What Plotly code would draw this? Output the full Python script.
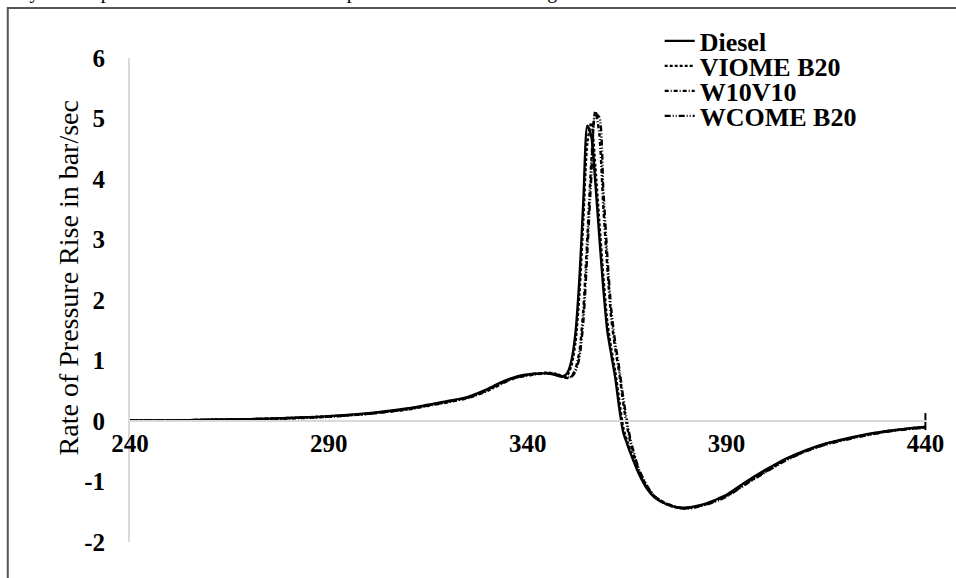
import plotly.graph_objects as go

crank = [240, 250, 260, 270, 280, 290, 300, 310, 315, 320, 325,
         330, 333, 336, 339, 342, 345, 347, 348, 349,
         350, 351, 352, 353, 354, 355, 356, 357, 358, 359, 360, 361, 362, 363, 364, 365, 366,
         368, 370, 372, 375, 378, 380, 382, 385, 388, 390,
         395, 400, 405, 410, 415, 420, 425, 430, 435, 440]

diesel = [0.01, 0.01, 0.02, 0.03, 0.05, 0.08, 0.13, 0.21, 0.27, 0.33, 0.40,
          0.53, 0.63, 0.71, 0.76, 0.78, 0.79, 0.76, 0.74, 0.74,
          0.80, 1.00, 1.45, 2.35, 3.65, 4.88, 4.70, 3.95, 3.05, 2.20, 1.50, 1.10, 0.72, 0.22, -0.18, -0.38, -0.56,
          -0.88, -1.12, -1.27, -1.38, -1.43, -1.43, -1.41, -1.36, -1.28, -1.22,
          -1.00, -0.80, -0.62, -0.48, -0.37, -0.29, -0.22, -0.17, -0.13, -0.10]

viome_b20 = [0.01, 0.01, 0.02, 0.03, 0.05, 0.08, 0.12, 0.20, 0.26, 0.32, 0.39,
             0.51, 0.61, 0.70, 0.75, 0.78, 0.80, 0.78, 0.75, 0.73,
             0.76, 0.92, 1.30, 2.10, 3.35, 4.60, 4.93, 4.20, 3.30, 2.40, 1.65, 1.20, 0.82, 0.35, -0.10, -0.33, -0.52,
             -0.86, -1.10, -1.26, -1.38, -1.44, -1.44, -1.42, -1.37, -1.29, -1.23,
             -1.02, -0.82, -0.63, -0.49, -0.38, -0.30, -0.23, -0.17, -0.13, -0.10]

w10v10 = [0.01, 0.01, 0.02, 0.03, 0.04, 0.07, 0.12, 0.19, 0.25, 0.31, 0.38,
          0.50, 0.60, 0.69, 0.74, 0.77, 0.79, 0.77, 0.75, 0.72,
          0.71, 0.74, 0.86, 1.15, 1.85, 3.05, 4.30, 5.12, 4.75, 3.55, 2.55, 1.70, 1.20, 0.80, 0.30, -0.10, -0.40,
          -0.82, -1.08, -1.25, -1.37, -1.43, -1.44, -1.42, -1.37, -1.30, -1.24,
          -1.03, -0.83, -0.64, -0.50, -0.38, -0.30, -0.23, -0.18, -0.13, -0.10]

wcome_b20 = [0.01, 0.01, 0.02, 0.03, 0.05, 0.07, 0.12, 0.20, 0.26, 0.32, 0.39,
             0.52, 0.62, 0.70, 0.75, 0.78, 0.79, 0.78, 0.76, 0.73,
             0.72, 0.73, 0.82, 1.05, 1.65, 2.80, 4.05, 5.08, 5.02, 3.85, 2.75, 1.85, 1.30, 0.88, 0.40, -0.02, -0.35,
             -0.80, -1.07, -1.25, -1.37, -1.43, -1.45, -1.43, -1.38, -1.31, -1.25,
             -1.04, -0.84, -0.65, -0.50, -0.39, -0.31, -0.24, -0.18, -0.14, -0.11]

end_angle = [440, 440]
end_rate = [0.13, -0.15]

series_names = ["Diesel", "VIOME B20", "W10V10", "WCOME B20"]
series_values = [diesel, viome_b20, w10v10, wcome_b20]
series_dash = ["solid", "3px,2px", "4px,2px,1px,2px", "6px,2px,1px,2px,1px,2px"]

x_ticks = [240, 290, 340, 390, 440]
y_ticks = [-2, -1, 0, 1, 2, 3, 4, 5, 6]

SERIF = "Liberation Serif, Times New Roman, serif"

# plot area pixel geometry
L, R, T, B = 130, 24, 58, 36
W, H = 956, 578
pw, ph = W - L - R, H - T - B

def px(xp):
    return (xp - L) / pw

def py(yp):
    return (H - B - yp) / ph

legend_ids = ["legend", "legend2", "legend3", "legend4"]
legend_rows = [41, 66, 91, 116]

fig = go.Figure()
for name, vals, dash, lg in zip(series_names, series_values, series_dash, legend_ids):
    fig.add_trace(go.Scatter(
        x=crank, y=vals, name=name, mode="lines", legend=lg,
        line=dict(color="black", width=2.4, dash=dash, shape="spline", smoothing=0.7),
    ))

fig.add_trace(go.Scatter(x=end_angle, y=end_rate, mode="lines", showlegend=False,
                         line=dict(color="black", width=2), hoverinfo="skip"))

legend_font = dict(family=SERIF, size=26, color="black", weight="bold")
legend_layout = {}
for lg, row in zip(legend_ids, legend_rows):
    legend_layout[lg] = dict(x=px(663), y=py(row), xanchor="left", yanchor="middle",
                             font=legend_font, bgcolor="rgba(0,0,0,0)", itemwidth=30,
                             borderwidth=0)

fig.update_layout(
    width=W, height=H,
    margin=dict(l=L, r=R, t=T, b=B, pad=0),
    paper_bgcolor="white", plot_bgcolor="white",
    showlegend=True,
    xaxis=dict(range=[240, 440.4], tickvals=x_ticks, ticktext=[str(v) for v in x_ticks],
               showgrid=False, zeroline=False, showline=True, linecolor="#d9d9d9", linewidth=2,
               ticks="", anchor="free", position=0.25, ticklabelstandoff=0,
               tickfont=dict(family=SERIF, size=25, color="black", weight="bold")),
    yaxis=dict(range=[-2, 6], tickvals=y_ticks, ticktext=[str(v) for v in y_ticks],
               showgrid=False, zeroline=False, showline=True, linecolor="#d9d9d9", linewidth=2,
               ticks="", ticklabelstandoff=18,
               tickfont=dict(family=SERIF, size=25, color="black", weight="bold")),
    annotations=[
        dict(text="Rate of Pressure Rise in bar/sec", xref="paper", yref="paper",
             x=px(68), y=py(278), xanchor="center", yanchor="middle", textangle=-90,
             showarrow=False, font=dict(family=SERIF, size=28, color="black")),
        dict(text="respectively. These pressures come about at crank position of 360 to 367 degree.",
             xref="paper", yref="paper", x=px(592), y=py(5), xanchor="right", yanchor="bottom",
             showarrow=False, font=dict(family=SERIF, size=20, color="black")),
    ],
    shapes=[
        dict(type="rect", xref="paper", yref="paper", x0=px(7), x1=1.2, y0=-0.3, y1=py(8),
             line=dict(color="#555555", width=2), fillcolor="rgba(0,0,0,0)", layer="above"),
    ],
    **legend_layout,
)

fig.write_html("out.html")
